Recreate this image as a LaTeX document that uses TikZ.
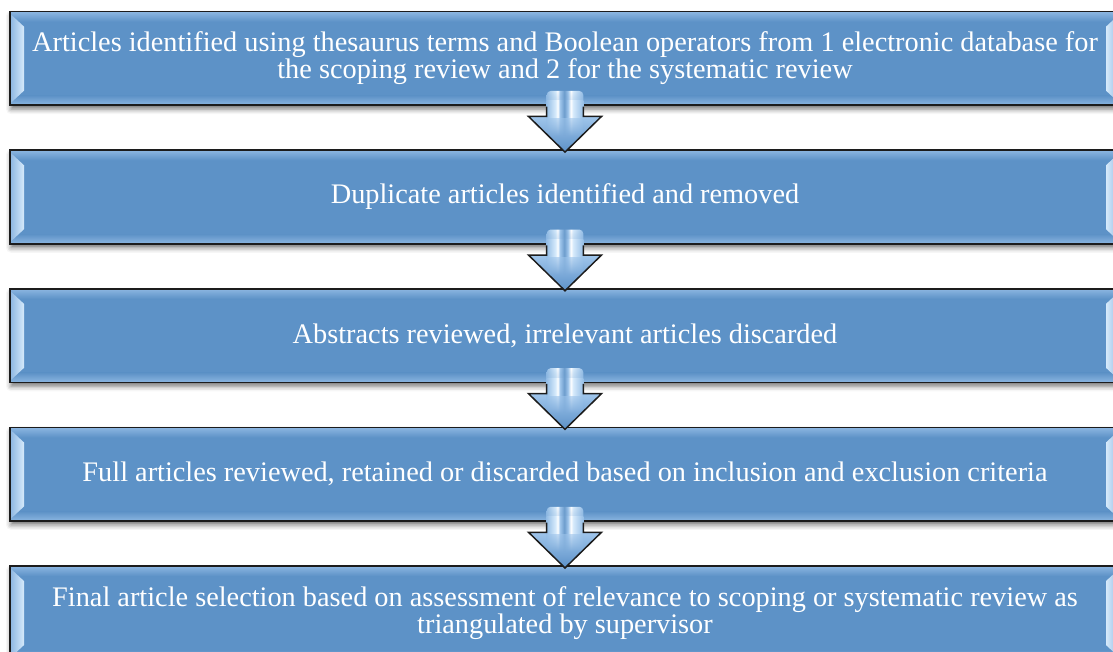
\documentclass[tikz,border=0pt]{standalone}
\usepackage{fontspec}
\setmainfont{Liberation Serif}
\usetikzlibrary{shadows.blur,calc,fadings}

\definecolor{boxblue}{RGB}{93,146,199}
\definecolor{boxlight}{RGB}{140,182,225}
\definecolor{bevelpale}{RGB}{214,234,251}
\definecolor{arrowtop}{RGB}{160,198,236}
\definecolor{arrowbot}{RGB}{92,145,200}
\definecolor{edge}{RGB}{28,28,28}

% vertical stripes running down the arrow shaft
\pgfdeclarehorizontalshading{shaftstripes}{100bp}{%
  color(0bp)=(arrowtop); color(25bp)=(arrowtop!85!boxblue);
  color(37bp)=(bevelpale); color(40bp)=(white);
  color(43bp)=(arrowtop); color(49bp)=(boxblue!90!white);
  color(54bp)=(arrowtop); color(58bp)=(white);
  color(61bp)=(bevelpale); color(75bp)=(arrowtop!85!boxblue);
  color(100bp)=(arrowtop)}

\tikzset{
  stepbox/.style={
    draw=edge, line width=1.6pt, fill=boxblue,
    minimum width=1110pt, minimum height=93.5pt, inner sep=0pt,
    align=center, text=white, font=\fontsize{28.3}{27}\selectfont,
    blur shadow={shadow xshift=1pt, shadow yshift=-4pt,
      shadow blur radius=5pt, shadow opacity=55},
    path picture={
      \path (path picture bounding box.north west) coordinate (pnw)
            (path picture bounding box.south east) coordinate (pse);
      % top and bottom sheen
      \shade[top color=boxlight, bottom color=boxblue]
        (pnw) rectangle ($(pse|-pnw)+(0pt,-10pt)$);
      \shade[top color=boxblue, bottom color=boxlight]
        ($(pnw|-pse)+(0pt,9.5pt)$) rectangle (pse);
      % bevelled side strips
      \shade[left color=boxlight, right color=bevelpale]
        ($(pnw)+(0pt,-2pt)$) -- ($(pnw)+(14pt,-15pt)$)
        -- ($(pnw|-pse)+(14pt,14.5pt)$) -- ($(pnw|-pse)+(0pt,1.5pt)$) -- cycle;
      \shade[right color=boxlight, left color=bevelpale]
        ($(pse|-pnw)+(0pt,-2pt)$) -- ($(pse|-pnw)+(-14pt,-15pt)$)
        -- ($(pse)+(-14pt,14.5pt)$) -- ($(pse)+(0pt,1.5pt)$) -- cycle;
    }},
  arrowline/.style={draw=edge, line width=1.5pt, line join=miter},
}

% block arrow leading from the bottom of one box to the top of the next
\newcommand\blockarrow[2]{%
  \shade[top color=arrowtop, bottom color=arrowbot]
    ($(#1.south)+(-36.5pt,-10.5pt)$) -- ([yshift=-2.7pt]#2.north)
    -- ($(#1.south)+(36.5pt,-10.5pt)$) -- cycle;
  \shade[shading=shaftstripes, path fading=south, rounded corners=4pt]
    ($(#1.south)+(-18.3pt,-30pt)$) -- ($(#1.south)+(-18.3pt,15pt)$)
    -- ($(#1.south)+(18.3pt,15pt)$) [sharp corners] -- ($(#1.south)+(18.3pt,-30pt)$) -- cycle;
  \shade[shading=shaftstripes, sharp corners]
    ($(#1.south)+(-18.3pt,-12pt)$) rectangle ($(#1.south)+(18.3pt,5pt)$);
  \draw[arrowline]
    ($(#1.south)+(-18.3pt,-0.8pt)$) -- ($(#1.south)+(-18.3pt,-10.5pt)$)
    -- ($(#1.south)+(-36.5pt,-10.5pt)$) -- ([yshift=-2.7pt]#2.north)
    -- ($(#1.south)+(36.5pt,-10.5pt)$) -- ($(#1.south)+(18.3pt,-10.5pt)$)
    -- ($(#1.south)+(18.3pt,-0.8pt)$);
}

\begin{document}
\begin{tikzpicture}[x=1pt, y=-1pt]
  \useasboundingbox (0,0) rectangle (1113,652);

  \node[stepbox] (s1) at (565,58.4)
    {Articles identified using thesaurus terms and Boolean operators from 1 electronic database for\\the scoping review and 2 for the systematic review};
  \node[stepbox] (s2) at (565,197.0)
    {Duplicate articles identified and removed};
  \node[stepbox] (s3) at (565,335.6)
    {Abstracts reviewed, irrelevant articles discarded};
  \node[stepbox] (s4) at (565,474.2)
    {Full articles reviewed, retained or discarded based on inclusion and exclusion criteria};
  \node[stepbox] (s5) at (565,612.8)
    {Final article selection based on assessment of relevance to scoping or systematic review as\\triangulated by supervisor};

  \blockarrow{s1}{s2}
  \blockarrow{s2}{s3}
  \blockarrow{s3}{s4}
  \blockarrow{s4}{s5}
\end{tikzpicture}
\end{document}
